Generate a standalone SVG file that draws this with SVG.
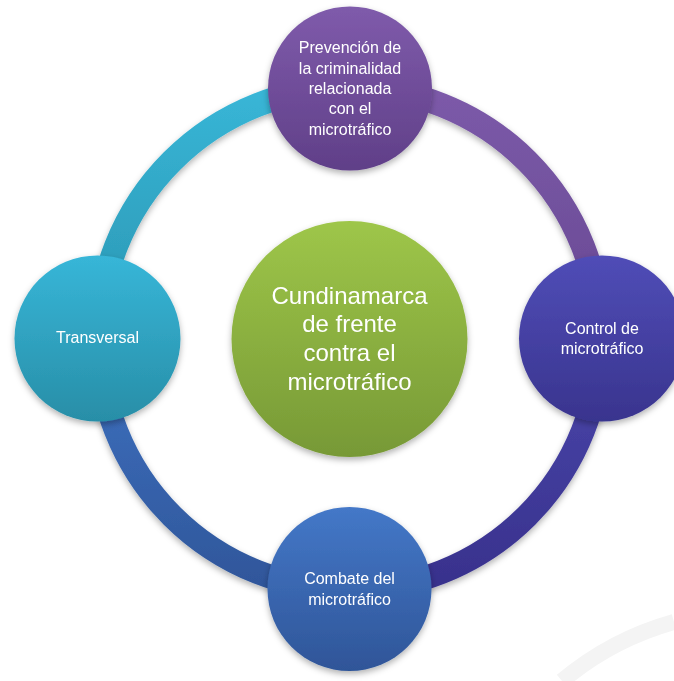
<svg xmlns="http://www.w3.org/2000/svg" width="674" height="681" viewBox="0 0 674 681">
  <defs>
    <style>
      .lbl { font-family: "Liberation Sans", Arial, sans-serif; font-size: 16px; fill: #ffffff; text-anchor: middle; }
      .big { font-family: "Liberation Sans", Arial, sans-serif; font-size: 24px; fill: #ffffff; text-anchor: middle; }
      .arc { fill: none; stroke-width: 24; }
    </style>
    <filter id="sh" x="-20%" y="-20%" width="140%" height="140%">
      <feDropShadow dx="0" dy="3" stdDeviation="3" flood-color="#000" flood-opacity="0.3"/>
    </filter>
    <linearGradient id="gTop" x1="0" y1="0" x2="0" y2="1">
      <stop offset="0" stop-color="#7f5bab"/><stop offset="1" stop-color="#603f88"/>
    </linearGradient>
    <linearGradient id="gLeft" x1="0" y1="0" x2="0" y2="1">
      <stop offset="0" stop-color="#37b6d8"/><stop offset="1" stop-color="#288ea7"/>
    </linearGradient>
    <linearGradient id="gRight" x1="0" y1="0" x2="0" y2="1">
      <stop offset="0" stop-color="#504db7"/><stop offset="1" stop-color="#39348e"/>
    </linearGradient>
    <linearGradient id="gBottom" x1="0" y1="0" x2="0" y2="1">
      <stop offset="0" stop-color="#4478c8"/><stop offset="1" stop-color="#2f5598"/>
    </linearGradient>
    <linearGradient id="gCenter" x1="0" y1="0" x2="0" y2="1">
      <stop offset="0" stop-color="#9ec649"/><stop offset="1" stop-color="#779936"/>
    </linearGradient>
    <linearGradient id="aTL" x1="0" y1="0" x2="0" y2="1">
      <stop offset="0" stop-color="#38b6d7"/><stop offset="1" stop-color="#2a95b1"/>
    </linearGradient>
    <linearGradient id="aTR" x1="0" y1="0" x2="0" y2="1">
      <stop offset="0" stop-color="#7c5aa9"/><stop offset="1" stop-color="#674892"/>
    </linearGradient>
    <linearGradient id="aBR" x1="0" y1="0" x2="0" y2="1">
      <stop offset="0" stop-color="#4b47ac"/><stop offset="1" stop-color="#38318c"/>
    </linearGradient>
    <linearGradient id="aBL" x1="0" y1="0" x2="0" y2="1">
      <stop offset="0" stop-color="#3f72c2"/><stop offset="1" stop-color="#2f569a"/>
    </linearGradient>
  </defs>

  <rect width="674" height="681" fill="#ffffff"/>

  <!-- faint watermark arc -->
  <path d="M 562 681 A 300 300 0 0 1 674 622" fill="none" stroke="#f4f4f4" stroke-width="16"/>

  <g id="connectors" filter="url(#sh)">
    <path class="arc" stroke="url(#aTL)" d="M 98.5 338.5 A 251 251 0 0 1 349.5 87.5"/>
    <path class="arc" stroke="url(#aTR)" d="M 349.5 87.5 A 251 251 0 0 1 600.5 338.5"/>
    <path class="arc" stroke="url(#aBR)" d="M 600.5 338.5 A 251 251 0 0 1 349.5 589.5"/>
    <path class="arc" stroke="url(#aBL)" d="M 349.5 589.5 A 251 251 0 0 1 98.5 338.5"/>
  </g>

  <g id="node-center" filter="url(#sh)">
    <circle cx="349.5" cy="339" r="118" fill="url(#gCenter)"/>
    <text class="big" x="349.5" y="303.5">Cundinamarca</text>
    <text class="big" x="349.5" y="332">de frente</text>
    <text class="big" x="349.5" y="361">contra el</text>
    <text class="big" x="349.5" y="390">microtráfico</text>
  </g>

  <g id="node-top" filter="url(#sh)">
    <circle cx="350" cy="88.5" r="82" fill="url(#gTop)"/>
    <text class="lbl" x="350" y="53">Prevención de</text>
    <text class="lbl" x="350" y="73.5">la criminalidad</text>
    <text class="lbl" x="350" y="94">relacionada</text>
    <text class="lbl" x="350" y="114">con el</text>
    <text class="lbl" x="350" y="134.5">microtráfico</text>
  </g>

  <g id="node-left" filter="url(#sh)">
    <circle cx="97.5" cy="338.5" r="83" fill="url(#gLeft)"/>
    <text class="lbl" x="97.5" y="343">Transversal</text>
  </g>

  <g id="node-right" filter="url(#sh)">
    <circle cx="602" cy="338.5" r="83" fill="url(#gRight)"/>
    <text class="lbl" x="602" y="334">Control de</text>
    <text class="lbl" x="602" y="354">microtráfico</text>
  </g>

  <g id="node-bottom" filter="url(#sh)">
    <circle cx="349.5" cy="589" r="82" fill="url(#gBottom)"/>
    <text class="lbl" x="349.5" y="584">Combate del</text>
    <text class="lbl" x="349.5" y="604.5">microtráfico</text>
  </g>
</svg>
